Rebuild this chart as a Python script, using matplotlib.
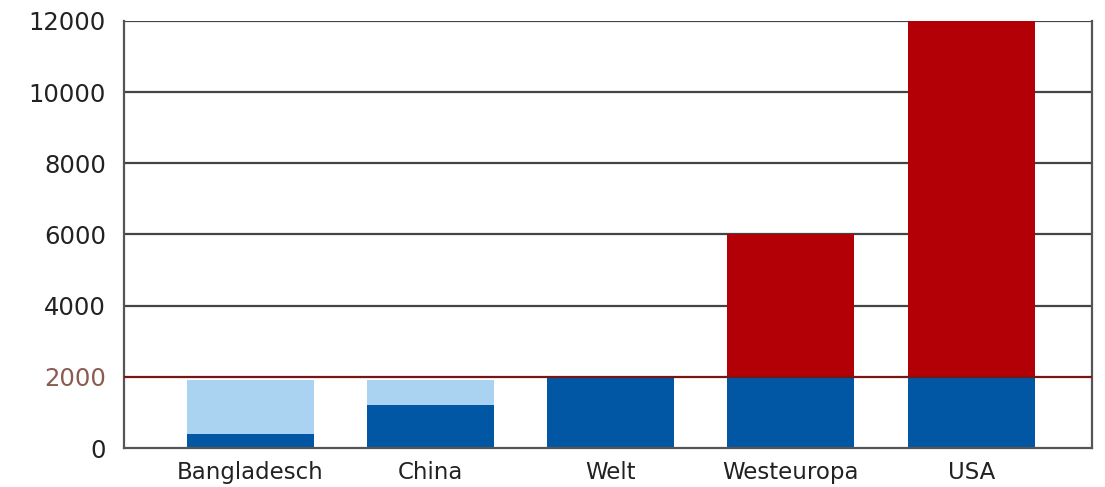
import matplotlib
matplotlib.use("Agg")
import matplotlib.pyplot as plt
import numpy as np

categories = ["Bangladesch", "China", "Welt", "Westeuropa", "USA"]
base_values = [390, 1210, 1980, 2000, 2000]      # dark blue
light_values = [1510, 690, 0, 0, 0]              # light blue (on top of base)
red_values = [0, 0, 0, 4000, 10000]              # red (above 2000)
yticks = [0, 2000, 4000, 6000, 8000, 10000, 12000]
ytick_labels = ["0", "2000", "4000", "6000", "8000", "10000", "12000"]

dark_blue = "#0257A5"
light_blue = "#A9D3F1"
red = "#B30006"

fig = plt.figure(figsize=(11.05, 4.87), dpi=100)
ax = fig.add_axes([0.1122, 0.080, 0.876, 0.877])

x = np.arange(len(categories))
w = 0.705
base = np.array(base_values)
light = np.array(light_values)
redv = np.array(red_values)

ax.bar(x, base, width=w, color=dark_blue, zorder=2)
ax.bar(x, light, width=w, bottom=base, color=light_blue, zorder=2)
ax.bar(x, redv, width=w, bottom=2000, color=red, zorder=2)

ax.set_xlim(-0.70, 4.67)
ax.set_ylim(0, 12000)
ax.set_yticks(yticks)
ax.set_yticklabels(ytick_labels, fontsize=17.5)
ax.set_xticks(x)
ax.set_xticklabels(categories, fontsize=16.5)
ax.tick_params(axis="both", length=0, colors="#222222")
ax.tick_params(axis="y", pad=13)
ax.tick_params(axis="x", pad=9)
for t, lbl in zip(yticks, ax.get_yticklabels()):
    lbl.set_color("#8B5A50" if t == 2000 else "#222222")

for t in yticks:
    if t in (0, 2000):
        continue
    ax.axhline(t, color="#444444", lw=1.6, zorder=1)
ax.axhline(2000, color="#7A1515", lw=1.6, zorder=3)

for s in ["left", "bottom", "right"]:
    ax.spines[s].set_color("#555555")
    ax.spines[s].set_linewidth(1.6)
ax.spines["top"].set_visible(False)

fig.savefig("out.png", dpi=100)
